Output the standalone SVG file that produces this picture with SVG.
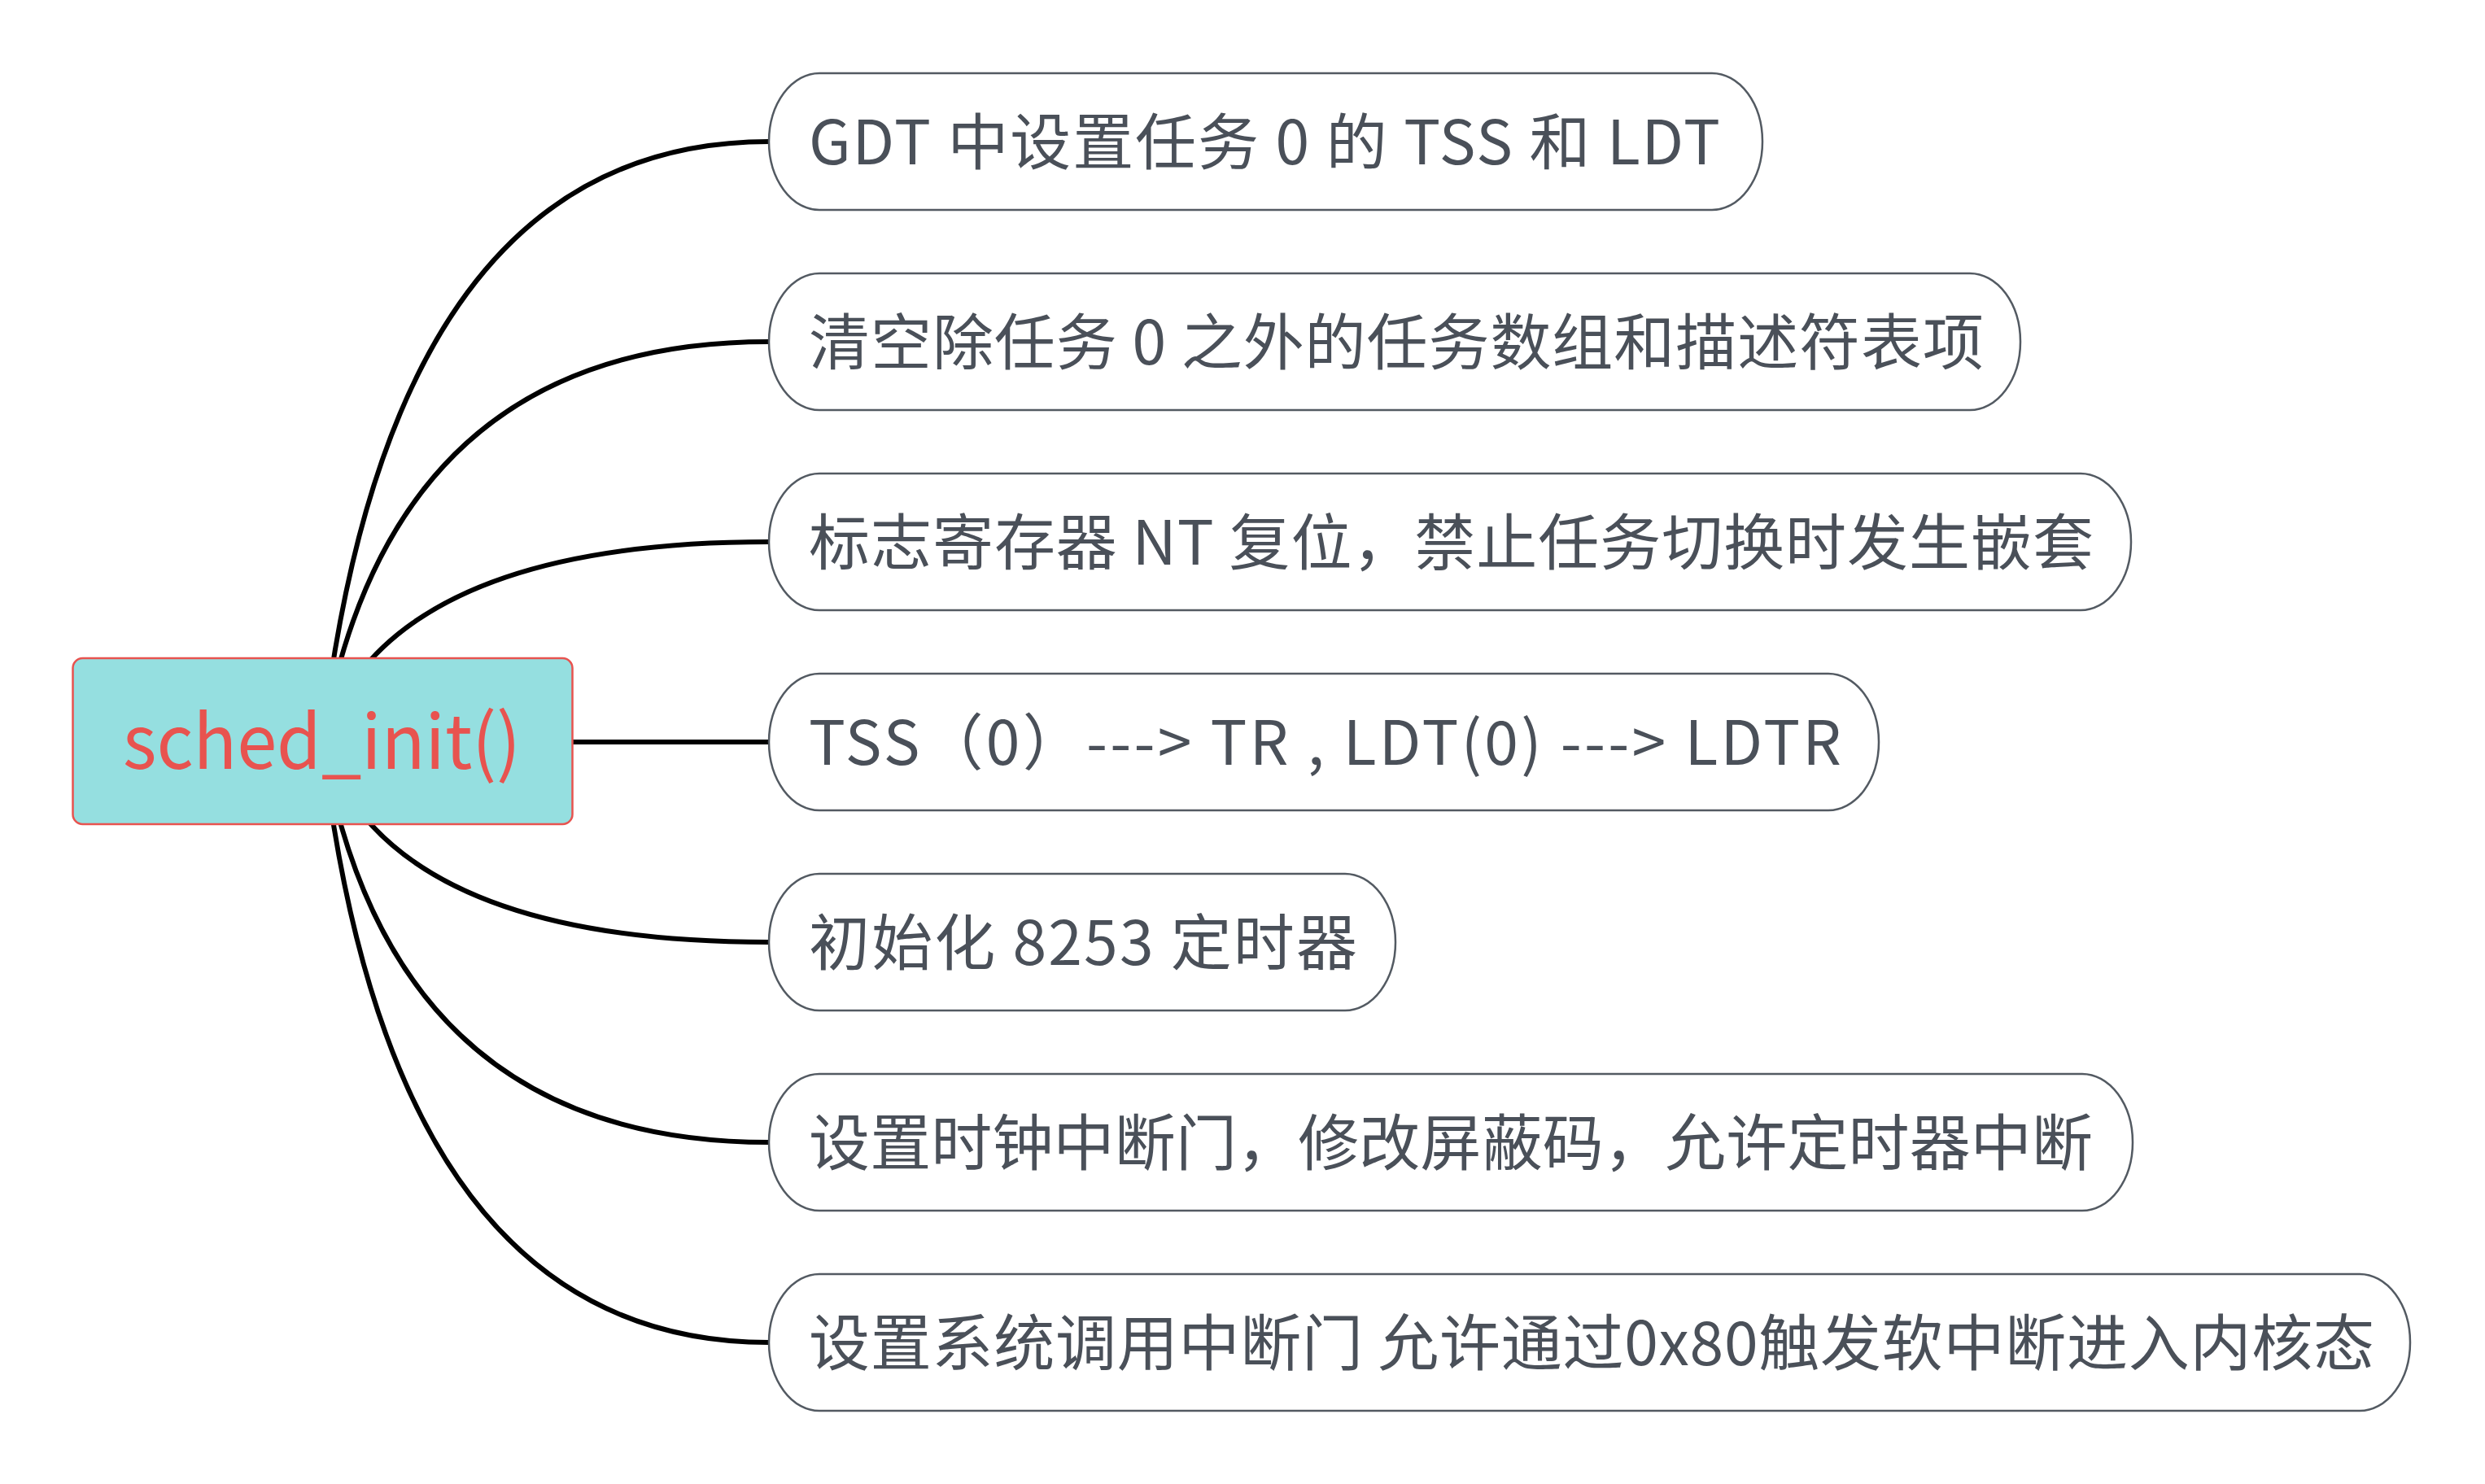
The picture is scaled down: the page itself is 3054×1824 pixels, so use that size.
<svg xmlns="http://www.w3.org/2000/svg" width="3054" height="1824" viewBox="0 0 3054 1824">
<defs>
<style>
.conn{fill:none;stroke:#000000;stroke-width:6;stroke-linecap:butt}
.child rect{fill:#FFFFFF;stroke:#535A62;stroke-width:2.5}
.child text{font-family:'Noto Sans CJK SC','Noto Sans',sans-serif;font-size:75px;fill:#4A5059}
.root rect{fill:#95DFE0;stroke:#E8534F;stroke-width:2.5}
.root text{font-family:'Noto Sans CJK SC','Noto Sans',sans-serif;font-size:92px;fill:#E8534F}
</style>
</defs>
<rect x="0" y="0" width="3054" height="1824" fill="#FFFFFF"/>
<g id="connectors">
<path class="conn" d="M396 912 Q480 174 945 174"/>
<path class="conn" d="M396 912 Q480 420 945 420"/>
<path class="conn" d="M396 912 Q480 666 945 666"/>
<path class="conn" d="M396 912 L945 912"/>
<path class="conn" d="M396 912 Q480 1158 945 1158"/>
<path class="conn" d="M396 912 Q480 1404 945 1404"/>
<path class="conn" d="M396 912 Q480 1650 945 1650"/>
</g>
<g id="root" class="root">
<rect x="89.5" y="809" width="614" height="204" rx="12" ry="12"/>
<text x="151" y="945" textLength="489" lengthAdjust="spacingAndGlyphs">sched_init()</text>
</g>
<g id="node1" class="child">
<rect x="945" y="90" width="1221" height="168" rx="62" ry="84"/>
<text x="994" y="202" textLength="1120" lengthAdjust="spacing">GDT 中设置任务 0 的 TSS 和 LDT</text>
</g>
<g id="node2" class="child">
<rect x="945" y="336" width="1538" height="168" rx="62" ry="84"/>
<text x="994" y="448" textLength="1444" lengthAdjust="spacing">清空除任务 0 之外的任务数组和描述符表项</text>
</g>
<g id="node3" class="child">
<rect x="945" y="582" width="1674" height="168" rx="62" ry="84"/>
<text x="994" y="694" textLength="1579" lengthAdjust="spacing">标志寄存器 NT 复位，禁止任务切换时发生嵌套</text>
</g>
<g id="node4" class="child">
<rect x="945" y="828" width="1364" height="168" rx="62" ry="84"/>
<text x="994" y="940" textLength="1269" lengthAdjust="spacing">TSS（0）---&gt; TR , LDT(0) ---&gt; LDTR</text>
</g>
<g id="node5" class="child">
<rect x="945" y="1074" width="770" height="168" rx="62" ry="84"/>
<text x="994" y="1186" textLength="674" lengthAdjust="spacing">初始化 8253 定时器</text>
</g>
<g id="node6" class="child">
<rect x="945" y="1320" width="1676" height="168" rx="62" ry="84"/>
<text x="994" y="1432" textLength="1578" lengthAdjust="spacing">设置时钟中断门，修改屏蔽码，允许定时器中断</text>
</g>
<g id="node7" class="child">
<rect x="945" y="1566" width="2017" height="168" rx="62" ry="84"/>
<text x="994" y="1678" textLength="1924" lengthAdjust="spacing">设置系统调用中断门 允许通过0x80触发软中断进入内核态</text>
</g>
</svg>
